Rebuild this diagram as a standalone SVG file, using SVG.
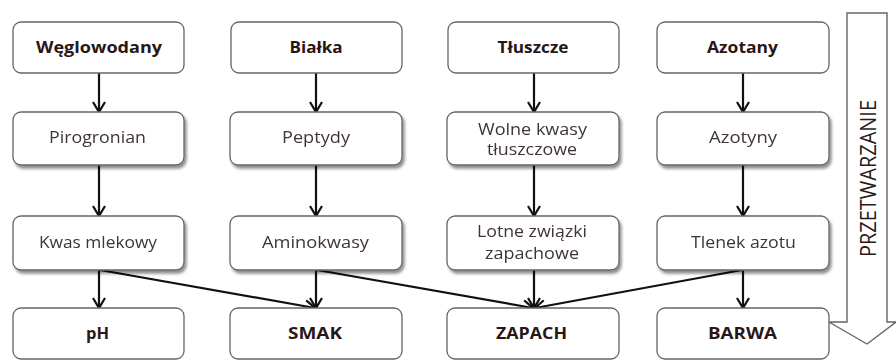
<svg xmlns="http://www.w3.org/2000/svg" width="896" height="360" viewBox="0 0 896 360">
<defs>
<style>
.box{fill:#fff;stroke:#666;stroke-width:1.3}
.sh{filter:url(#shadow)}
.b{font-family:"Open Sans","Liberation Sans",sans-serif;font-weight:bold;font-size:16px;fill:#2a1616;text-anchor:middle}
.r{font-family:"Open Sans","Liberation Sans",sans-serif;font-size:15.5px;fill:#3f3434;text-anchor:middle}
.c{stroke:#111;stroke-width:2.2;fill:none;marker-end:url(#ah)}
.big{fill:#fff;stroke:#666;stroke-width:1.4}
.side{font-family:"Open Sans","Liberation Sans",sans-serif;font-weight:normal;font-size:21px;fill:#2a1a1a;text-anchor:middle}
</style>
<filter id="shadow" x="-10%" y="-10%" width="125%" height="140%">
<feGaussianBlur in="SourceAlpha" stdDeviation="1.5"/>
<feOffset dx="1.5" dy="2.5" result="o"/>
<feComponentTransfer><feFuncA type="linear" slope="0.45"/></feComponentTransfer>
<feMerge><feMergeNode/><feMergeNode in="SourceGraphic"/></feMerge>
</filter>
<marker id="ah" markerWidth="14" markerHeight="14" refX="11" refY="7" orient="auto" markerUnits="userSpaceOnUse">
<path d="M1,1 L11,7 L1,13" fill="none" stroke="#111" stroke-width="2.2"/>
</marker>
</defs>

<g id="przetwarzanie">
<path class="big" d="M847,13 L887,13 L887,322 L896,322 L867,344 L829,322 L847,322 Z"/>
<text class="side" transform="translate(876,178.5) rotate(-90)" textLength="157" lengthAdjust="spacingAndGlyphs">PRZETWARZANIE</text>
</g>

<g id="connectors">
<line class="c" x1="99" y1="73" x2="99" y2="112"/>
<line class="c" x1="316" y1="73" x2="316" y2="112"/>
<line class="c" x1="534" y1="73" x2="534" y2="112"/>
<line class="c" x1="743" y1="73" x2="743" y2="112"/>
<line class="c" x1="99" y1="165" x2="99" y2="216"/>
<line class="c" x1="316" y1="165" x2="316" y2="216"/>
<line class="c" x1="534" y1="165" x2="534" y2="216"/>
<line class="c" x1="743" y1="165" x2="743" y2="216"/>
<line class="c" x1="99" y1="270" x2="99" y2="308"/>
<line class="c" x1="316" y1="270" x2="316" y2="308"/>
<line class="c" x1="534" y1="270" x2="534" y2="308"/>
<line class="c" x1="743" y1="270" x2="743" y2="308"/>
<line class="c" x1="100" y1="270" x2="315" y2="308"/>
<line class="c" x1="317" y1="270" x2="533" y2="308"/>
<line class="c" x1="742" y1="270" x2="535" y2="308"/>
</g>

<g id="weglowodany"><rect class="box" x="13" y="22" width="171" height="51" rx="8"/><text class="b" x="99" y="53" textLength="126" lengthAdjust="spacingAndGlyphs">Węglowodany</text></g>
<g id="bialka"><rect class="box" x="231" y="22" width="171" height="51" rx="8"/><text class="b" x="316" y="53" textLength="53" lengthAdjust="spacingAndGlyphs">Białka</text></g>
<g id="tluszcze"><rect class="box" x="448" y="22" width="171" height="51" rx="8"/><text class="b" x="533" y="53" textLength="71" lengthAdjust="spacingAndGlyphs">Tłuszcze</text></g>
<g id="azotany"><rect class="box" x="657" y="22" width="172" height="51" rx="8"/><text class="b" x="742.5" y="53" textLength="71" lengthAdjust="spacingAndGlyphs">Azotany</text></g>

<g id="pirogronian" class="sh"><rect class="box" x="13" y="112" width="171" height="53" rx="8" stroke="#444"/><text class="r" x="97.5" y="143" textLength="97" lengthAdjust="spacingAndGlyphs">Pirogronian</text></g>
<g id="peptydy" class="sh"><rect class="box" x="230" y="112" width="172" height="53" rx="8" stroke="#444"/><text class="r" x="316" y="143" textLength="68" lengthAdjust="spacingAndGlyphs">Peptydy</text></g>
<g id="wolne-kwasy" class="sh"><rect class="box" x="447" y="112" width="172" height="53" rx="8" stroke="#444"/><text class="r" x="532.5" y="135" textLength="109" lengthAdjust="spacingAndGlyphs">Wolne kwasy</text><text class="r" x="532" y="155" textLength="90" lengthAdjust="spacingAndGlyphs">tłuszczowe</text></g>
<g id="azotyny" class="sh"><rect class="box" x="657" y="112" width="172" height="53" rx="8" stroke="#444"/><text class="r" x="743" y="143" textLength="68" lengthAdjust="spacingAndGlyphs">Azotyny</text></g>

<g id="kwas-mlekowy" class="sh"><rect class="box" x="13" y="216" width="171" height="54" rx="8" stroke="#444"/><text class="r" x="98" y="248" textLength="118" lengthAdjust="spacingAndGlyphs">Kwas mlekowy</text></g>
<g id="aminokwasy" class="sh"><rect class="box" x="230" y="216" width="172" height="54" rx="8" stroke="#444"/><text class="r" x="315.5" y="248" textLength="107" lengthAdjust="spacingAndGlyphs">Aminokwasy</text></g>
<g id="lotne-zwiazki" class="sh"><rect class="box" x="447" y="216" width="172" height="54" rx="8" stroke="#444"/><text class="r" x="532" y="237" textLength="110" lengthAdjust="spacingAndGlyphs">Lotne związki</text><text class="r" x="532" y="259" textLength="94" lengthAdjust="spacingAndGlyphs">zapachowe</text></g>
<g id="tlenek-azotu" class="sh"><rect class="box" x="657" y="216" width="172" height="54" rx="8" stroke="#444"/><text class="r" x="743.5" y="248" textLength="105" lengthAdjust="spacingAndGlyphs">Tlenek azotu</text></g>

<g id="ph"><rect class="box" x="13" y="308" width="171" height="51" rx="8"/><text class="b" x="97.5" y="339" textLength="23" lengthAdjust="spacingAndGlyphs">pH</text></g>
<g id="smak"><rect class="box" x="230" y="308" width="172" height="51" rx="8"/><text class="b" x="315" y="339" textLength="54" lengthAdjust="spacingAndGlyphs">SMAK</text></g>
<g id="zapach"><rect class="box" x="447" y="308" width="172" height="51" rx="8"/><text class="b" x="531.5" y="339" textLength="71" lengthAdjust="spacingAndGlyphs">ZAPACH</text></g>
<g id="barwa"><rect class="box" x="657" y="308" width="172" height="51" rx="8"/><text class="b" x="742.5" y="339" textLength="69" lengthAdjust="spacingAndGlyphs">BARWA</text></g>
</svg>
